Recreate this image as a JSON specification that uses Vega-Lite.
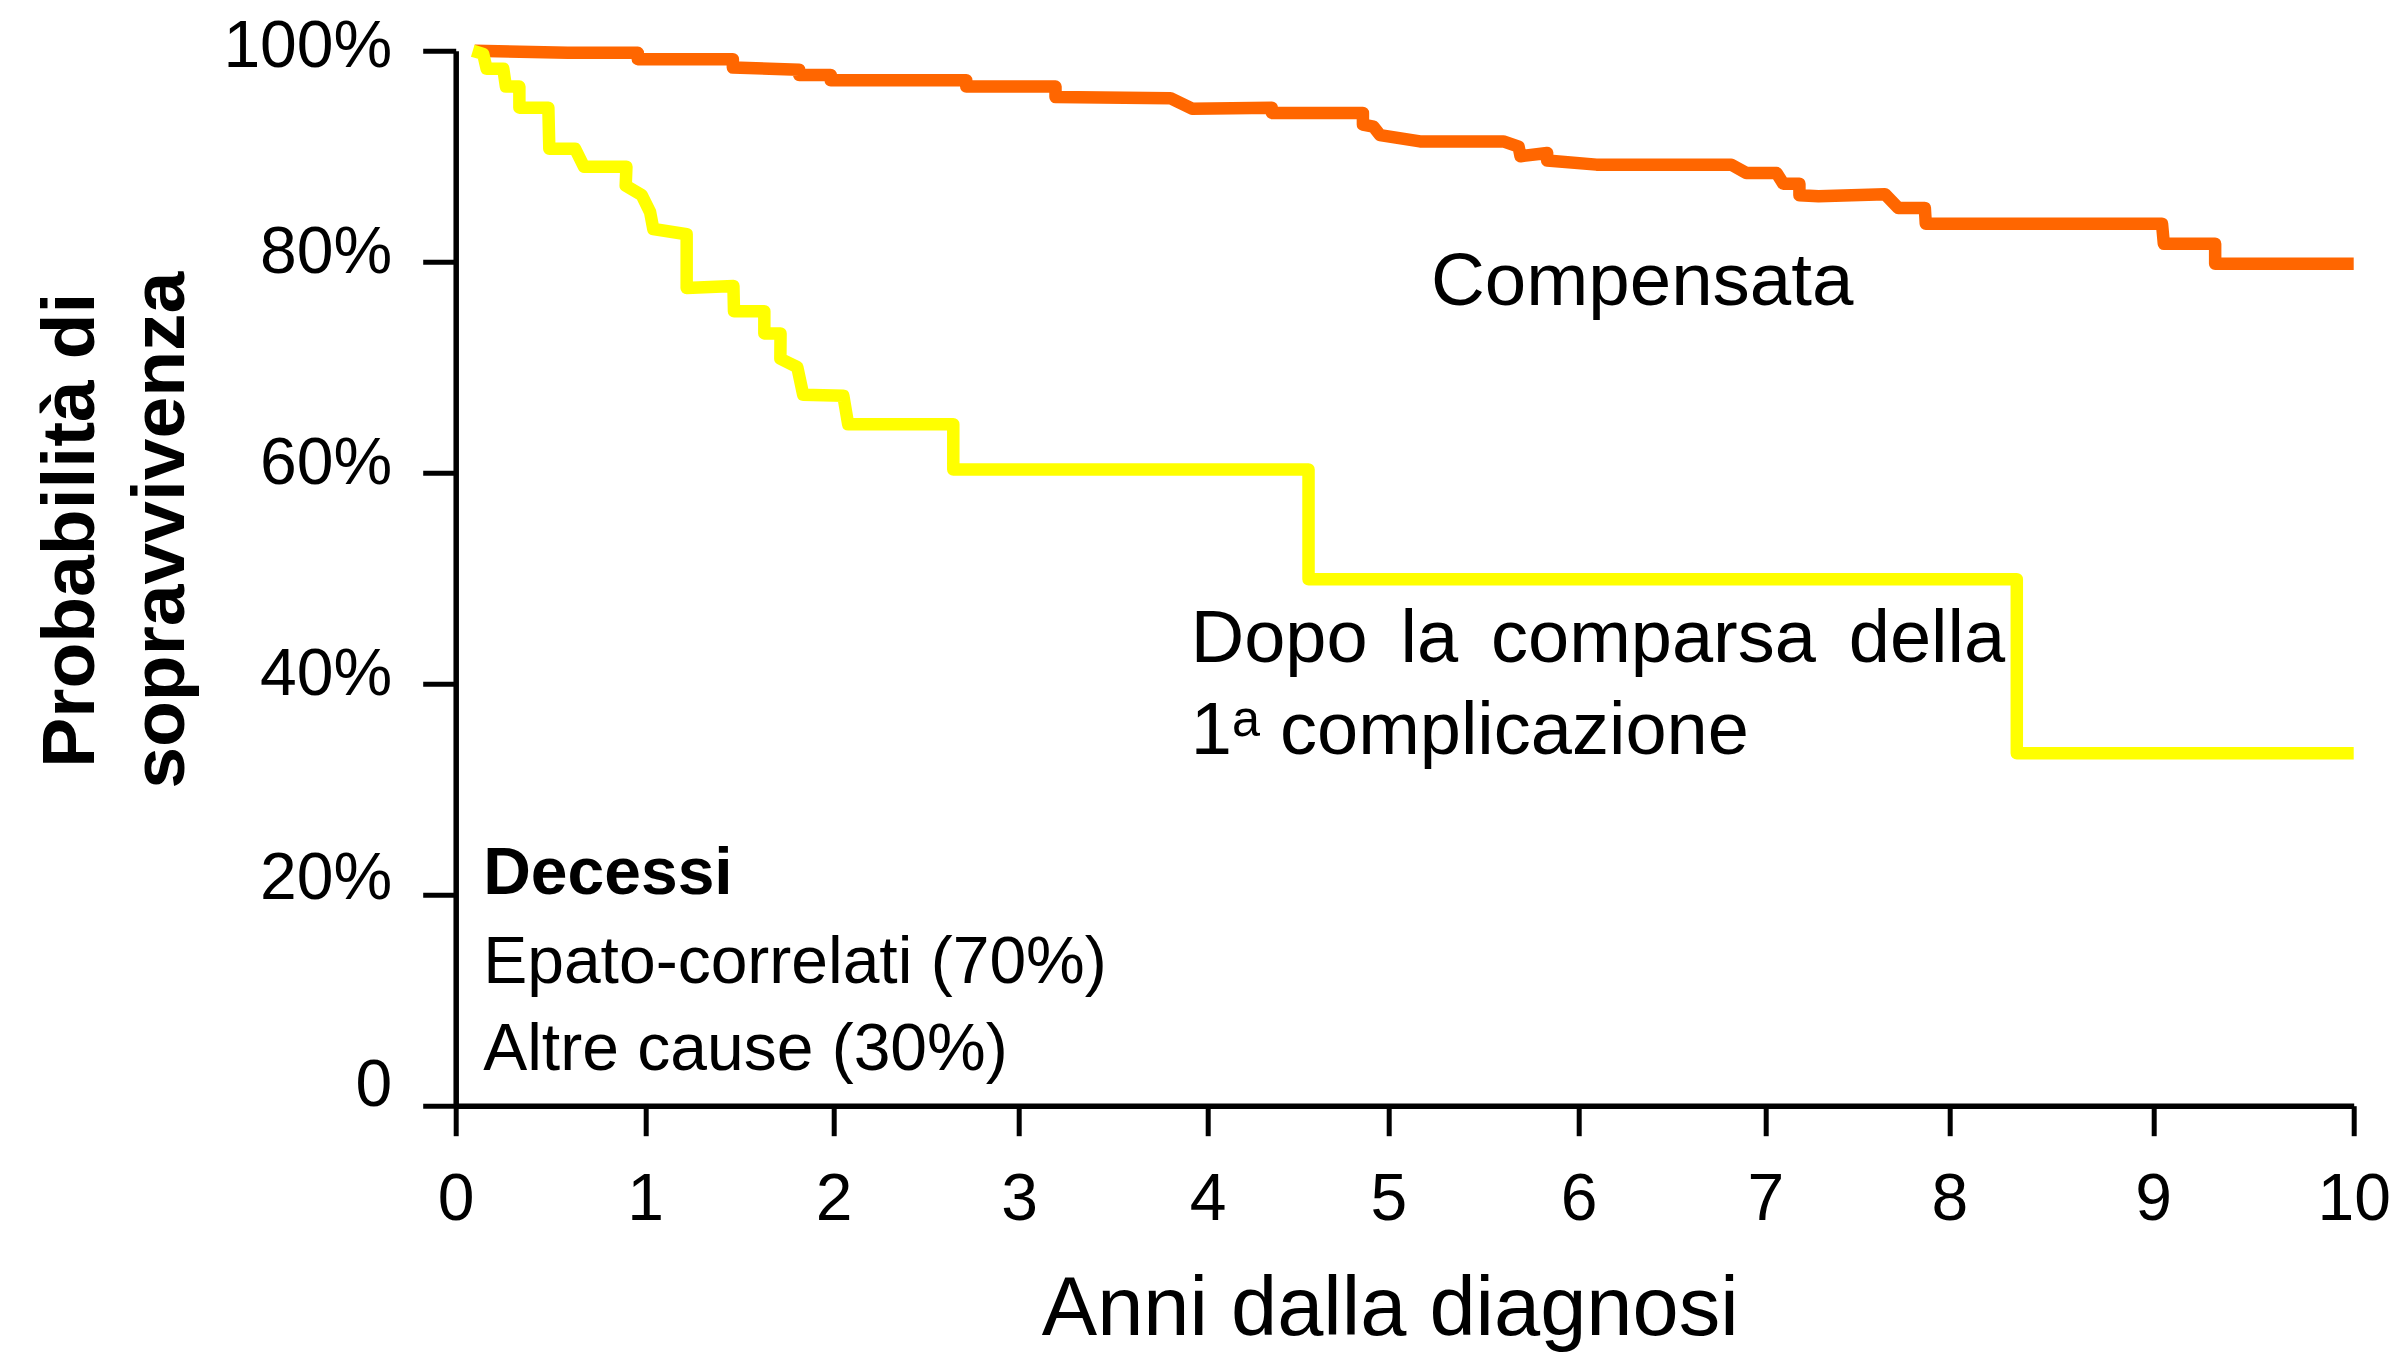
{
  "$schema": "https://vega.github.io/schema/vega-lite/v6.json",
  "width": 1898,
  "height": 1055,
  "autosize": {"type": "none"},
  "padding": {"left": 455.7, "top": 50.7, "right": 49.3, "bottom": 250.3},
  "background": "white",
  "config": {
    "view": {"stroke": null},
    "font": "Liberation Sans",
    "axis": {
      "grid": false,
      "domainColor": "black",
      "tickColor": "black",
      "labelColor": "black",
      "titleColor": "black",
      "labelFont": "Liberation Sans",
      "titleFont": "Liberation Sans"
    }
  },
  "datasets": {
    "curves": [
      {"group": "Compensata", "i": 1, "t": 0.100, "p": 1.000},
      {"group": "Compensata", "i": 2, "t": 0.591, "p": 0.998},
      {"group": "Compensata", "i": 3, "t": 0.961, "p": 0.998},
      {"group": "Compensata", "i": 4, "t": 0.961, "p": 0.992},
      {"group": "Compensata", "i": 5, "t": 1.465, "p": 0.992},
      {"group": "Compensata", "i": 6, "t": 1.465, "p": 0.984},
      {"group": "Compensata", "i": 7, "t": 1.817, "p": 0.982},
      {"group": "Compensata", "i": 8, "t": 1.817, "p": 0.977},
      {"group": "Compensata", "i": 9, "t": 1.984, "p": 0.977},
      {"group": "Compensata", "i": 10, "t": 1.984, "p": 0.972},
      {"group": "Compensata", "i": 11, "t": 2.715, "p": 0.972},
      {"group": "Compensata", "i": 12, "t": 2.715, "p": 0.966},
      {"group": "Compensata", "i": 13, "t": 3.193, "p": 0.966},
      {"group": "Compensata", "i": 14, "t": 3.193, "p": 0.956},
      {"group": "Compensata", "i": 15, "t": 3.802, "p": 0.955},
      {"group": "Compensata", "i": 16, "t": 3.917, "p": 0.945},
      {"group": "Compensata", "i": 17, "t": 4.355, "p": 0.946},
      {"group": "Compensata", "i": 18, "t": 4.355, "p": 0.941},
      {"group": "Compensata", "i": 19, "t": 4.859, "p": 0.941},
      {"group": "Compensata", "i": 20, "t": 4.859, "p": 0.930},
      {"group": "Compensata", "i": 21, "t": 4.917, "p": 0.928},
      {"group": "Compensata", "i": 22, "t": 4.954, "p": 0.920},
      {"group": "Compensata", "i": 23, "t": 5.166, "p": 0.914},
      {"group": "Compensata", "i": 24, "t": 5.605, "p": 0.914},
      {"group": "Compensata", "i": 25, "t": 5.685, "p": 0.909},
      {"group": "Compensata", "i": 26, "t": 5.695, "p": 0.900},
      {"group": "Compensata", "i": 27, "t": 5.835, "p": 0.903},
      {"group": "Compensata", "i": 28, "t": 5.835, "p": 0.896},
      {"group": "Compensata", "i": 29, "t": 6.096, "p": 0.892},
      {"group": "Compensata", "i": 30, "t": 6.817, "p": 0.892},
      {"group": "Compensata", "i": 31, "t": 6.898, "p": 0.884},
      {"group": "Compensata", "i": 32, "t": 7.061, "p": 0.884},
      {"group": "Compensata", "i": 33, "t": 7.097, "p": 0.874},
      {"group": "Compensata", "i": 34, "t": 7.185, "p": 0.874},
      {"group": "Compensata", "i": 35, "t": 7.185, "p": 0.863},
      {"group": "Compensata", "i": 36, "t": 7.289, "p": 0.862},
      {"group": "Compensata", "i": 37, "t": 7.650, "p": 0.864},
      {"group": "Compensata", "i": 38, "t": 7.722, "p": 0.851},
      {"group": "Compensata", "i": 39, "t": 7.867, "p": 0.851},
      {"group": "Compensata", "i": 40, "t": 7.872, "p": 0.836},
      {"group": "Compensata", "i": 41, "t": 9.044, "p": 0.836},
      {"group": "Compensata", "i": 42, "t": 9.053, "p": 0.817},
      {"group": "Compensata", "i": 43, "t": 9.309, "p": 0.817},
      {"group": "Compensata", "i": 44, "t": 9.309, "p": 0.798},
      {"group": "Compensata", "i": 45, "t": 10.0, "p": 0.798},
      {"group": "Dopo", "i": 1, "t": 0.090, "p": 1.000},
      {"group": "Dopo", "i": 2, "t": 0.145, "p": 0.997},
      {"group": "Dopo", "i": 3, "t": 0.163, "p": 0.983},
      {"group": "Dopo", "i": 4, "t": 0.251, "p": 0.983},
      {"group": "Dopo", "i": 5, "t": 0.265, "p": 0.966},
      {"group": "Dopo", "i": 6, "t": 0.336, "p": 0.966},
      {"group": "Dopo", "i": 7, "t": 0.336, "p": 0.946},
      {"group": "Dopo", "i": 8, "t": 0.489, "p": 0.946},
      {"group": "Dopo", "i": 9, "t": 0.494, "p": 0.907},
      {"group": "Dopo", "i": 10, "t": 0.630, "p": 0.907},
      {"group": "Dopo", "i": 11, "t": 0.677, "p": 0.890},
      {"group": "Dopo", "i": 12, "t": 0.901, "p": 0.890},
      {"group": "Dopo", "i": 13, "t": 0.897, "p": 0.872},
      {"group": "Dopo", "i": 14, "t": 0.982, "p": 0.863},
      {"group": "Dopo", "i": 15, "t": 1.026, "p": 0.847},
      {"group": "Dopo", "i": 16, "t": 1.043, "p": 0.831},
      {"group": "Dopo", "i": 17, "t": 1.220, "p": 0.826},
      {"group": "Dopo", "i": 18, "t": 1.220, "p": 0.775},
      {"group": "Dopo", "i": 19, "t": 1.468, "p": 0.777},
      {"group": "Dopo", "i": 20, "t": 1.471, "p": 0.753},
      {"group": "Dopo", "i": 21, "t": 1.632, "p": 0.753},
      {"group": "Dopo", "i": 22, "t": 1.632, "p": 0.732},
      {"group": "Dopo", "i": 23, "t": 1.718, "p": 0.732},
      {"group": "Dopo", "i": 24, "t": 1.717, "p": 0.708},
      {"group": "Dopo", "i": 25, "t": 1.807, "p": 0.700},
      {"group": "Dopo", "i": 26, "t": 1.838, "p": 0.674},
      {"group": "Dopo", "i": 27, "t": 2.052, "p": 0.673},
      {"group": "Dopo", "i": 28, "t": 2.078, "p": 0.646},
      {"group": "Dopo", "i": 29, "t": 2.645, "p": 0.646},
      {"group": "Dopo", "i": 30, "t": 2.645, "p": 0.603},
      {"group": "Dopo", "i": 31, "t": 4.558, "p": 0.603},
      {"group": "Dopo", "i": 32, "t": 4.558, "p": 0.499},
      {"group": "Dopo", "i": 33, "t": 8.331, "p": 0.499},
      {"group": "Dopo", "i": 34, "t": 8.331, "p": 0.334},
      {"group": "Dopo", "i": 35, "t": 10.0, "p": 0.334}
    ]
  },
  "layer": [
    {
      "data": {"name": "curves"},
      "mark": {"type": "line", "strokeWidth": 12.5, "strokeJoin": "round", "strokeCap": "butt"},
      "encoding": {
        "x": {
          "field": "t",
          "type": "quantitative",
          "scale": {
            "domain": [0, 1, 2, 3, 4, 5, 6, 7, 8, 9, 10],
            "range": [0, 189.5, 378, 563.4, 752, 932.7, 1122.8, 1309.7, 1493.6, 1697.5, 1898],
            "nice": false,
            "zero": false
          },
          "axis": {
            "values": [0, 1, 2, 3, 4, 5, 6, 7, 8, 9, 10],
            "format": "d",
            "labelFontSize": 66,
            "labelBaseline": "alphabetic",
            "labelPadding": 84,
            "tickSize": 30,
            "tickWidth": 5,
            "domainWidth": 5.5,
            "labelFlush": false,
            "labelOverlap": false,
            "title": "Anni dalla diagnosi",
            "titleFontSize": 83,
            "titleFontWeight": "normal",
            "titleBaseline": "alphabetic",
            "titleAlign": "center",
            "titleX": 934,
            "titleY": 229
          }
        },
        "y": {
          "field": "p",
          "type": "quantitative",
          "scale": {"domain": [0, 1], "nice": false},
          "axis": {
            "values": [0, 0.2, 0.4, 0.6, 0.8, 1],
            "labelExpr": "datum.value == 0 ? '0' : format(datum.value, '.0%')",
            "labelFontSize": 66,
            "labelBaseline": "middle",
            "labelPadding": 31,
            "labelOffset": {"condition": [{"test": "datum.value == 0", "value": -20}, {"test": "datum.value < 0.3", "value": -16}, {"test": "datum.value > 0.9", "value": -4}], "value": -9},
            "tickSize": 33,
            "tickWidth": 5,
            "domainWidth": 5.5,
            "labelFlush": false,
            "labelOverlap": false,
            "title": ["Probabilità di", "sopravvivenza"],
            "titleFontSize": 75,
            "titleFontWeight": "bold",
            "titleLineHeight": 90,
            "titleAngle": -90,
            "titleBaseline": "alphabetic",
            "titleAlign": "center",
            "titleX": -362.4,
            "titleY": 479
          }
        },
        "color": {
          "field": "group",
          "type": "nominal",
          "scale": {"domain": ["Compensata", "Dopo"], "range": ["#FF6600", "#FFFF00"]},
          "legend": null
        },
        "order": {"field": "i", "type": "quantitative"}
      }
    },
    {
      "data": {"values": [{}]},
      "mark": {"type": "text", "text": "Compensata", "align": "left", "baseline": "alphabetic", "fontSize": 74.5, "font": "Liberation Sans", "color": "black"},
      "encoding": {"x": {"datum": 5.224, "type": "quantitative"}, "y": {"datum": 0.759, "type": "quantitative"}}
    },
    {
      "data": {"values": [{}]},
      "mark": {"type": "text", "text": ["Dopo \u2006la \u2006comparsa \u2006della", "1\u1d43 complicazione"], "align": "left", "baseline": "alphabetic", "lineHeight": 92, "fontSize": 74, "font": "Liberation Sans", "color": "black"},
      "encoding": {"x": {"datum": 3.91, "type": "quantitative"}, "y": {"datum": 0.4209, "type": "quantitative"}}
    },
    {
      "data": {"values": [{}]},
      "mark": {"type": "text", "text": "Decessi", "align": "left", "baseline": "alphabetic", "fontSize": 66, "fontWeight": "bold", "font": "Liberation Sans", "color": "black"},
      "encoding": {"x": {"datum": 0.145, "type": "quantitative"}, "y": {"datum": 0.2002, "type": "quantitative"}}
    },
    {
      "data": {"values": [{}]},
      "mark": {"type": "text", "text": ["Epato-correlati (70%)", "Altre cause (30%)"], "align": "left", "baseline": "alphabetic", "lineHeight": 86.5, "fontSize": 66, "font": "Liberation Sans", "color": "black"},
      "encoding": {"x": {"datum": 0.145, "type": "quantitative"}, "y": {"datum": 0.1159, "type": "quantitative"}}
    }
  ]
}
